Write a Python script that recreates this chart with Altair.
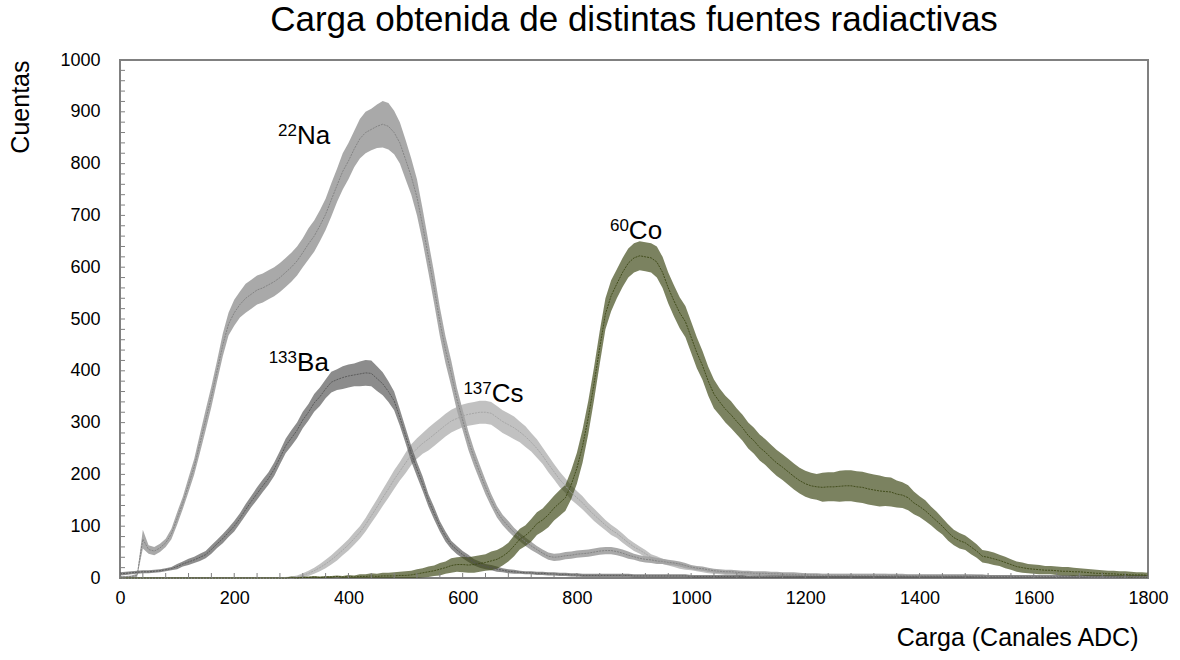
import altair as alt
import pandas as pd

# ---- data (channel step = 10, 0..1800) ----
canales = list(range(0, 1801, 10))

series_names = ["Na-22", "Cs-137", "Ba-133", "Co-60"]
series_colors = ["#808080", "#a3a3a3", "#555555", "#3c4714"]

na_cuentas = (
    [2, 2, 3, 5, 75, 55, 52, 58, 68, 85]
    + [115, 145, 180, 215, 260, 305, 350, 400, 450, 490]
    + [512, 528, 540, 548, 556, 560, 566, 572, 580, 590]
    + [600, 612, 628, 645, 660, 680, 702, 730, 758, 785]
    + [805, 828, 848, 860, 866, 872, 876, 872, 860, 840]
    + [808, 775, 735, 680, 620, 560, 495, 440, 395, 345]
    + [305, 265, 232, 203, 175, 150, 128, 112, 100, 88]
    + [79, 70, 62, 55, 48, 42, 40, 41, 43, 44]
    + [46, 47, 48, 50, 52, 53, 53, 51, 48, 44]
    + [41, 38, 36, 35, 33, 32, 30, 29, 27, 24]
    + [21, 19, 18, 16, 14, 13, 12, 12, 11, 10]
    + [10, 9, 9, 9, 8, 8, 7, 7, 7, 6]
    + [6, 6, 6, 5, 5, 5, 5, 5, 5, 5]
    + [5, 5, 5, 5, 5, 5, 5, 5, 4, 4]
    + [4, 4, 4, 4, 4, 4, 4, 4, 4, 4]
    + [4, 4, 3, 3, 3, 3, 3, 3, 3, 3]
    + [3, 3, 3, 3, 3, 3, 3, 3, 3, 3]
    + [3, 3, 3, 3, 3, 3, 3, 3, 3, 3]
    + [3]
)
na_ruido = (
    [2, 2, 2, 3, 18, 8, 8, 8, 8, 10]
    + [12, 12, 14, 15, 18, 20, 20, 20, 22, 22]
    + [25, 25, 28, 28, 28, 28, 28, 28, 28, 28]
    + [28, 28, 28, 30, 30, 30, 30, 32, 32, 35]
    + [35, 35, 38, 40, 40, 42, 45, 45, 42, 40]
    + [38, 35, 35, 32, 30, 30, 28, 26, 25, 22]
    + [20, 18, 16, 15, 14, 12, 11, 10, 10, 9]
    + [8, 8, 8, 7, 7, 7, 7, 7, 7, 7]
    + [7, 7, 7, 7, 7, 7, 7, 7, 7, 7]
    + [6, 6, 6, 6, 6, 5, 5, 5, 5, 5]
    + [4, 4, 4, 4, 4, 4, 4, 4, 4, 4]
    + [4, 4, 4, 4, 4, 4, 4, 4, 4, 4]
    + [3, 3, 3, 3, 3, 3, 3, 3, 3, 3]
    + [3, 3, 3, 3, 3, 3, 3, 3, 3, 3]
    + [3, 3, 3, 3, 3, 3, 3, 3, 3, 3]
    + [3, 3, 3, 3, 3, 3, 3, 3, 3, 3]
    + [3, 3, 3, 3, 3, 3, 3, 3, 3, 3]
    + [3, 3, 3, 3, 3, 3, 3, 3, 3, 3]
    + [3]
)

cs_cuentas = (
    [0, 0, 0, 0, 0, 0, 0, 0, 0, 0]
    + [0, 0, 0, 0, 0, 0, 0, 0, 0, 0]
    + [0, 0, 0, 0, 0, 0, 0, 0, 0, 1]
    + [1, 2, 5, 9, 14, 20, 27, 35, 44, 54]
    + [64, 76, 88, 103, 120, 137, 155, 172, 190, 206]
    + [222, 238, 250, 260, 268, 277, 286, 295, 303, 308]
    + [313, 316, 318, 320, 320, 318, 310, 302, 296, 290]
    + [282, 273, 262, 250, 236, 220, 205, 190, 178, 165]
    + [155, 145, 133, 122, 112, 102, 93, 86, 77, 68]
    + [60, 54, 47, 40, 36, 32, 29, 26, 23, 21]
    + [19, 17, 15, 13, 12, 11, 10, 10, 9, 9]
    + [8, 8, 8, 7, 7, 7, 6, 6, 6, 6]
    + [5, 5, 5, 5, 5, 5, 5, 5, 5, 5]
    + [5, 5, 5, 5, 5, 4, 4, 4, 4, 4]
    + [4, 4, 4, 4, 4, 4, 4, 4, 4, 4]
    + [3, 3, 3, 3, 3, 3, 3, 3, 3, 3]
    + [3, 3, 3, 3, 3, 3, 3, 3, 3, 3]
    + [2, 2, 2, 2, 2, 2, 2, 2, 2, 2]
    + [2]
)
cs_ruido = (
    [1, 1, 1, 1, 1, 1, 1, 1, 1, 1]
    + [1, 1, 1, 1, 1, 1, 1, 1, 1, 1]
    + [1, 1, 1, 1, 1, 1, 1, 1, 1, 1]
    + [2, 3, 4, 5, 6, 7, 8, 9, 10, 10]
    + [11, 12, 12, 13, 14, 15, 16, 17, 18, 18]
    + [20, 20, 20, 20, 22, 22, 22, 22, 22, 22]
    + [22, 22, 22, 22, 22, 22, 22, 22, 22, 22]
    + [20, 20, 18, 18, 16, 16, 15, 15, 14, 14]
    + [13, 13, 12, 12, 11, 10, 10, 9, 9, 8]
    + [8, 7, 7, 6, 6, 5, 5, 5, 5, 5]
    + [4, 4, 4, 4, 4, 4, 4, 4, 4, 4]
    + [3, 3, 3, 3, 3, 3, 3, 3, 3, 3]
    + [3, 3, 3, 3, 3, 3, 3, 3, 3, 3]
    + [3, 3, 3, 3, 3, 3, 3, 3, 3, 3]
    + [3, 3, 3, 3, 3, 3, 3, 3, 3, 3]
    + [3, 3, 3, 3, 3, 3, 3, 3, 3, 3]
    + [3, 3, 3, 3, 3, 3, 3, 3, 3, 3]
    + [3, 3, 3, 3, 3, 3, 3, 3, 3, 3]
    + [3]
)

ba_cuentas = (
    [8, 9, 10, 11, 12, 12, 13, 14, 16, 18]
    + [22, 27, 31, 35, 40, 45, 55, 66, 76, 88]
    + [100, 115, 132, 148, 163, 178, 192, 210, 232, 255]
    + [270, 285, 305, 320, 338, 350, 365, 378, 383, 387]
    + [390, 392, 394, 396, 395, 385, 375, 360, 342, 310]
    + [275, 240, 210, 182, 150, 125, 100, 80, 64, 54]
    + [45, 38, 30, 26, 22, 20, 17, 15, 13, 12]
    + [11, 10, 10, 9, 9, 8, 8, 7, 7, 6]
    + [6, 5, 5, 5, 5, 5, 5, 5, 5, 5]
    + [4, 4, 4, 4, 4, 4, 4, 4, 4, 4]
    + [3, 3, 3, 3, 3, 3, 3, 3, 3, 3]
    + [2, 2, 2, 2, 2, 2, 2, 2, 2, 2]
    + [2, 2, 2, 2, 2, 2, 2, 2, 2, 2]
    + [2, 2, 2, 2, 2, 2, 2, 2, 2, 2]
    + [2, 2, 2, 2, 2, 2, 2, 2, 2, 2]
    + [2, 2, 2, 2, 2, 2, 2, 2, 2, 2]
    + [2, 2, 2, 2, 2, 2, 2, 2, 2, 2]
    + [2, 2, 2, 2, 2, 2, 2, 2, 2, 2]
    + [2]
)
ba_ruido = (
    [3, 3, 3, 3, 3, 3, 3, 3, 3, 3]
    + [5, 5, 6, 6, 7, 7, 8, 8, 9, 9]
    + [10, 10, 11, 11, 12, 12, 12, 13, 13, 14]
    + [15, 15, 16, 16, 17, 18, 18, 20, 20, 22]
    + [22, 22, 24, 25, 25, 24, 22, 20, 18, 16]
    + [15, 15, 14, 14, 12, 12, 10, 10, 8, 8]
    + [7, 7, 6, 6, 5, 5, 5, 4, 4, 4]
    + [3, 3, 3, 3, 3, 3, 3, 3, 3, 3]
    + [3, 3, 3, 3, 3, 3, 3, 3, 3, 3]
    + [3, 3, 3, 3, 3, 3, 3, 3, 3, 3]
    + [3, 3, 3, 3, 3, 3, 3, 3, 3, 3]
    + [3, 3, 3, 3, 3, 3, 3, 3, 3, 3]
    + [3, 3, 3, 3, 3, 3, 3, 3, 3, 3]
    + [3, 3, 3, 3, 3, 3, 3, 3, 3, 3]
    + [3, 3, 3, 3, 3, 3, 3, 3, 3, 3]
    + [3, 3, 3, 3, 3, 3, 3, 3, 3, 3]
    + [3, 3, 3, 3, 3, 3, 3, 3, 3, 3]
    + [3, 3, 3, 3, 3, 3, 3, 3, 3, 3]
    + [3]
)

co_cuentas = (
    [0, 0, 0, 0, 0, 0, 0, 0, 0, 0]
    + [0, 0, 0, 0, 0, 0, 0, 0, 0, 0]
    + [0, 0, 0, 0, 0, 0, 0, 0, 0, 0]
    + [1, 0, 1, 1, 2, 1, 2, 2, 3, 2]
    + [3, 2, 3, 3, 4, 3, 4, 4, 4, 5]
    + [5, 6, 8, 10, 12, 14, 17, 20, 24, 26]
    + [26, 25, 26, 28, 30, 33, 36, 42, 50, 62]
    + [75, 82, 92, 105, 112, 122, 135, 145, 155, 180]
    + [212, 255, 310, 375, 445, 510, 545, 568, 590, 608]
    + [618, 622, 620, 618, 610, 590, 560, 535, 512, 495]
    + [465, 435, 410, 380, 355, 340, 326, 315, 302, 290]
    + [275, 265, 252, 243, 232, 222, 214, 205, 196, 188]
    + [182, 178, 176, 175, 176, 176, 177, 178, 178, 176]
    + [175, 172, 170, 168, 167, 166, 162, 160, 155, 145]
    + [138, 130, 120, 110, 100, 88, 78, 72, 68, 60]
    + [52, 42, 40, 37, 34, 30, 26, 22, 20, 18]
    + [17, 16, 15, 15, 14, 13, 13, 12, 12, 11]
    + [10, 9, 9, 8, 8, 7, 7, 6, 6, 6]
    + [5]
)
co_ruido = (
    [1, 1, 1, 1, 1, 1, 1, 1, 1, 1]
    + [1, 1, 1, 1, 1, 1, 1, 1, 1, 1]
    + [1, 1, 1, 1, 1, 1, 1, 1, 1, 1]
    + [2, 2, 2, 2, 2, 2, 2, 2, 2, 2]
    + [3, 3, 4, 4, 5, 5, 6, 6, 7, 7]
    + [8, 8, 9, 9, 10, 10, 12, 12, 14, 14]
    + [15, 15, 16, 16, 16, 18, 18, 18, 18, 20]
    + [20, 20, 22, 22, 22, 24, 24, 25, 25, 28]
    + [30, 32, 32, 32, 32, 30, 30, 28, 28, 28]
    + [28, 28, 28, 28, 30, 30, 30, 30, 30, 30]
    + [30, 30, 28, 28, 28, 26, 26, 26, 25, 25]
    + [25, 25, 25, 25, 25, 25, 25, 25, 25, 25]
    + [25, 25, 25, 28, 28, 28, 30, 30, 30, 30]
    + [30, 30, 30, 30, 28, 28, 26, 25, 24, 22]
    + [20, 20, 18, 18, 16, 16, 15, 15, 14, 14]
    + [13, 12, 12, 12, 11, 11, 10, 10, 10, 9]
    + [9, 9, 8, 8, 8, 8, 8, 8, 7, 7]
    + [7, 7, 6, 6, 6, 6, 6, 6, 5, 5]
    + [5]
)

# isotope labels (superscript mass number + element), anchored in data units
etiqueta_iso = ["22", "133", "137", "60"]
etiqueta_elem = ["Na", "Ba", "Cs", "Co"]
etiqueta_x = [310, 310, 651, 891]
etiqueta_y = [838, 400, 340, 654]

x_labels = list(range(0, 1801, 200))
y_labels = list(range(0, 1001, 100))
x_minor = list(range(0, 1801, 40))
y_minor = list(range(0, 1001, 20))

# ---- build long table ----
rows = []
for name, vals, noise in [
    ("Na-22", na_cuentas, na_ruido),
    ("Cs-137", cs_cuentas, cs_ruido),
    ("Ba-133", ba_cuentas, ba_ruido),
    ("Co-60", co_cuentas, co_ruido),
]:
    assert len(vals) == len(canales), (name, len(vals))
    assert len(noise) == len(canales), (name, "noise", len(noise))
    for c, v, n in zip(canales, vals, noise):
        rows.append({"serie": name, "canal": c, "cuentas": v,
                     "lo": max(0, v - n), "hi": v + n})
df = pd.DataFrame(rows)

FONT = "Liberation Sans"
XT = "Carga (Canales ADC)"
YT = "Cuentas"
xs = alt.Scale(domain=[0, 1800], nice=False, zero=False)
ys = alt.Scale(domain=[0, 1000], nice=False)
X_AXIS = alt.Axis(values=x_labels, format="d", labelFlush=False, labelFontSize=18,
                  labelPadding=11, titleFontSize=25, titleX=1018, titleY=67,
                  titleAlign="right", titleBaseline="alphabetic")
Y_AXIS = alt.Axis(values=y_labels, format="d", labelFlush=False, labelFontSize=18,
                  labelPadding=20, titleFontSize=25, titleX=-100, titleY=0, titleAngle=270,
                  titleAlign="right", titleBaseline="middle")


def X(field):
    return alt.X(field, scale=xs, axis=X_AXIS, title=XT)


def Y(field):
    return alt.Y(field, scale=ys, axis=Y_AXIS, title=YT)


color = alt.Color("serie:N", scale=alt.Scale(domain=series_names, range=series_colors), legend=None)

band = alt.Chart(df).mark_area(opacity=0.68).encode(
    x=X("canal:Q"), y=Y("lo:Q"), y2="hi:Q", color=color,
)

line = alt.Chart(df).mark_line(strokeWidth=1, strokeDash=[2, 1], opacity=0.9).encode(
    x=X("canal:Q"), y=Y("cuentas:Q"), color=color,
)

xt = alt.Chart(pd.DataFrame({"v": x_minor})).mark_rule(color="#808080", strokeWidth=1).encode(
    x=X("v:Q"), y=alt.value(518), y2=alt.value(513))
yt = alt.Chart(pd.DataFrame({"v": y_minor})).mark_rule(color="#808080", strokeWidth=1).encode(
    y=Y("v:Q"), x=alt.value(0), x2=alt.value(5))

lab = pd.DataFrame({"iso": etiqueta_iso, "elem": etiqueta_elem, "x": etiqueta_x, "y": etiqueta_y})
elem_text = alt.Chart(lab).mark_text(align="left", baseline="alphabetic", fontSize=26,
                                     font=FONT, color="black").encode(
    x=X("x:Q"), y=Y("y:Q"), text="elem:N")
iso_text = alt.Chart(lab).mark_text(align="right", baseline="alphabetic", fontSize=17, dy=-8,
                                    font=FONT, color="black").encode(
    x=X("x:Q"), y=Y("y:Q"), text="iso:N")

chart = alt.layer(band, line, xt, yt, elem_text, iso_text).properties(
    width=1028, height=518,
    autosize=alt.AutoSizeParams(type="none"),
    padding={"left": 120, "top": 60, "right": 32, "bottom": 82},
    title=alt.TitleParams("Carga obtenida de distintas fuentes radiactivas", font=FONT,
                          fontSize=35, fontWeight="normal", color="black",
                          anchor="middle", frame="group", offset=20, dy=35,
                          baseline="alphabetic"),
).configure_view(stroke="#808080", strokeWidth=2).configure_axis(
    labelFont=FONT, titleFont=FONT, labelColor="black", titleColor="black",
    titleFontWeight="normal", grid=False, domain=False, ticks=False, tickSize=0,
)

chart.save("out.html", embed_options={"renderer": "svg", "actions": False})
